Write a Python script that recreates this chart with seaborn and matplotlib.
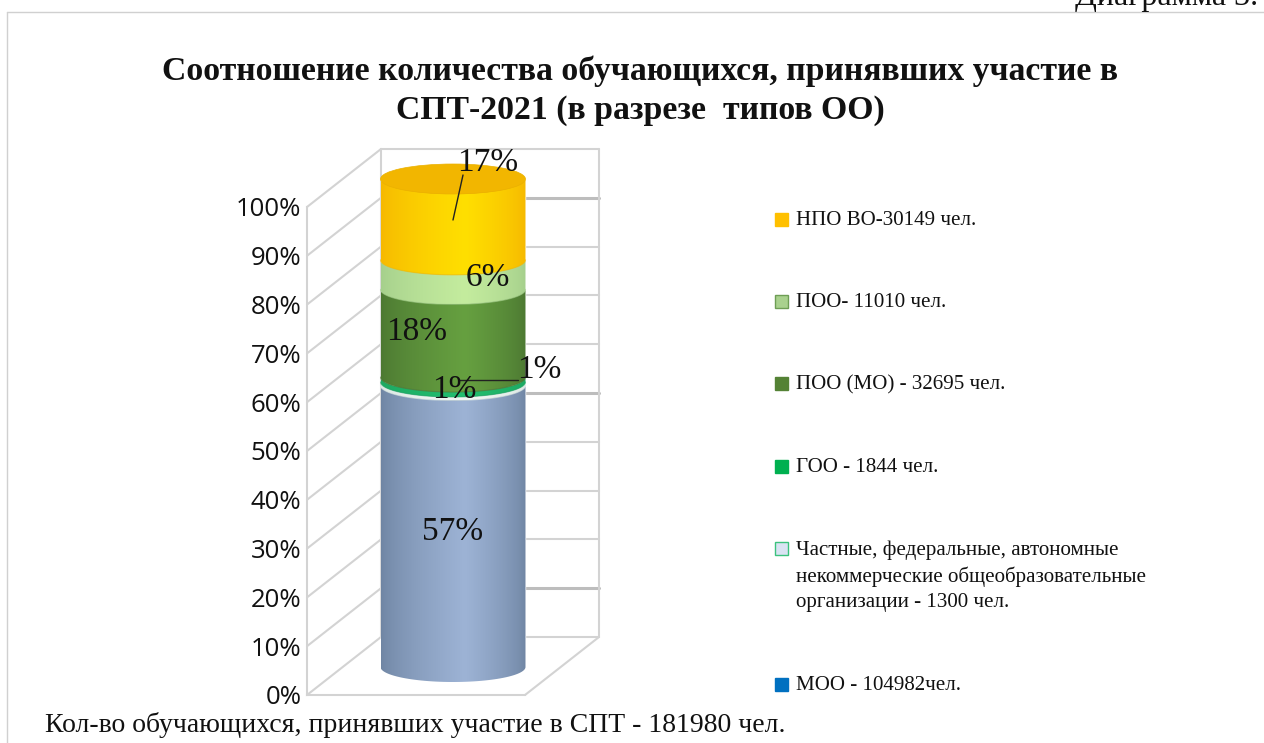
import numpy as np
import pandas as pd
import seaborn as sns
import matplotlib.pyplot as plt
from matplotlib.colors import LinearSegmentedColormap
from matplotlib.lines import Line2D
from matplotlib.patches import PathPatch, Ellipse, Rectangle
from matplotlib.path import Path
from matplotlib.transforms import Affine2D

W, H = 1264, 743

# data, bottom segment first
counts = [104982, 1300, 1844, 32695, 11010, 30149]
pct_labels = ["57%", "1%", "1%", "18%", "6%", "17%"]
legend_labels = [
    "МОО - 104982чел.",
    "Частные, федеральные, автономные\nнекоммерческие общеобразовательные\nорганизации - 1300 чел.",
    "ГОО - 1844 чел.",
    "ПОО (МО) - 32695 чел.",
    "ПОО- 11010 чел.",
    "НПО ВО-30149 чел.",
]
y_ticks = [0, 10, 20, 30, 40, 50, 60, 70, 80, 90, 100]
y_tick_labels = ["0%", "10%", "20%", "30%", "40%", "50%", "60%", "70%", "80%", "90%", "100%"]

# cylinder shading (edge, centre) and legend swatches
edge_colors = ["#6F85A3", "#DCE8E4", "#1DA862", "#4C7832", "#A5CF8C", "#F6B800"]
centre_colors = ["#9DB3D5", "#F2F7F4", "#22BE70", "#66A040", "#C4EC9E", "#FFDF00"]
swatch_colors = ["#0070C0", "#DAE3F3", "#00B050", "#548235", "#A9D18E", "#FFC000"]
swatch_edges = ["#0070C0", "#3CC27E", "#00B050", "#548235", "#6E9E55", "#FFC000"]

# layout, in pixels of the picture
legend_y = [684, 548, 466, 383, 301, 219]
label_xy = [(453, 532), (454, 390), (539, 370), (417, 332), (488, 278), (488, 163)]


def fx(x):
    return x / W


def fy(y):
    return 1 - y / H


sns.set_theme(style="white")
plt.rcParams["font.family"] = ["Liberation Serif", "DejaVu Serif"]

fig = plt.figure(figsize=(W / 100, H / 100), dpi=100)
ax = fig.add_axes([fx(307), fy(695), 218 / W, 488 / H])

df = pd.DataFrame({"group": [""] * len(counts), "count": counts})
df["pct"] = df["count"] / df["count"].sum() * 100
bottoms = df["pct"].cumsum() - df["pct"]

# depth of the 3D box in data units
depth_x = 74 / 218
depth_y = 58 / 4.88
sag = 15 / 4.88

# bars sit in the middle of the box
mid_tr = ax.transData + Affine2D().translate(37, 28)

for i in range(len(df)):
    sns.barplot(x=df["group"].iloc[[i]], y=df["pct"].iloc[[i]], bottom=bottoms.iloc[i],
                color=edge_colors[i], width=0.665, saturation=1, ax=ax, zorder=3)

ax.set_xlim(-0.5, 0.5)
ax.set_ylim(0, 100)

# walls of the box
wall = "#D3D3D3"
for t in y_ticks:
    thick = t in (10, 50, 90)
    ax.plot([-0.5 + depth_x, 0.5 + depth_x], [t + depth_y, t + depth_y], color="#BDBDBD" if thick else wall,
            lw=2.2 if thick else 1.5, clip_on=False, zorder=1)
    ax.plot([-0.5, -0.5 + depth_x], [t, t + depth_y], color=wall, lw=1.5, clip_on=False, zorder=1)
for x in (-0.5 + depth_x, 0.5 + depth_x):
    ax.plot([x, x], [depth_y, 100 + depth_y], color=wall, lw=1.5, clip_on=False, zorder=1)
ax.plot([0.5, 0.5 + depth_x], [0, depth_y], color=wall, lw=1.5, clip_on=False, zorder=1)

# turn the flat bars into a shaded cylinder
theta = np.linspace(np.pi, 2 * np.pi, 60)
u = np.linspace(0, 1, 200)
shade_vals = np.where(u < 0.58, u / 0.58, (1 - u) / 0.42)[None, :] ** 0.7
bars = list(ax.patches)
for i, bar in enumerate(bars):
    bar.set_transform(mid_tr)
    bar.set_clip_on(False)
    x0, x1 = bar.get_x(), bar.get_x() + bar.get_width()
    y0, y1 = bar.get_y(), bar.get_y() + bar.get_height()
    cx, rx = (x0 + x1) / 2, (x1 - x0) / 2
    top = np.column_stack([cx + rx * np.cos(theta), y1 + sag * np.sin(theta)])
    low = np.column_stack([cx + rx * np.cos(theta), y0 + sag * np.sin(theta)])[::-1]
    verts = np.vstack([top, low, top[:1]])
    shape = PathPatch(Path(verts), transform=mid_tr, fc="none", ec="none")
    ax.add_patch(shape)
    shade = LinearSegmentedColormap.from_list("s", [edge_colors[i], centre_colors[i]])
    im = ax.imshow(shade_vals, cmap=shade, vmin=0, vmax=1,
                   extent=[x0, x1, y0 - sag, y1 + sag], aspect="auto", zorder=4)
    im.set_transform(mid_tr)
    im.set_clip_path(shape)
    im.set_clip_box(fig.bbox)
    if i < len(bars) - 1:
        ax.plot(top[:, 0], top[:, 1], color=edge_colors[i + 1], lw=0.8, alpha=0.6, transform=mid_tr,
                clip_on=False, zorder=5)
    else:
        cap = Ellipse((cx, y1), 2 * rx, 2 * sag, fc="#F2B600", ec="#EBB100", lw=0.5, transform=mid_tr,
                      clip_on=False, zorder=6)
        ax.add_patch(cap)

ax.set_xlim(-0.5, 0.5)
ax.set_ylim(0, 100)
ax.set_xticks([])
ax.set_xlabel("")
ax.set_ylabel("")
ax.set_yticks(y_ticks)
ax.set_yticklabels(y_tick_labels, fontfamily="Open Sans", fontsize=18.5, color="#111111")
ax.tick_params(axis="y", length=0, pad=4)
for side in ("top", "right"):
    ax.spines[side].set_visible(False)
for side in ("left", "bottom"):
    ax.spines[side].set_color(wall)
    ax.spines[side].set_linewidth(1.5)
ax.patch.set_alpha(0)

# chart frame
fig.add_artist(Line2D([fx(7), fx(7)], [fy(12), 0], color="#D0D0D0", lw=1))
fig.add_artist(Line2D([fx(7), 1], [fy(12), fy(12)], color="#D0D0D0", lw=1))

# percent labels and leader lines
for (x, y), s in zip(label_xy, pct_labels):
    fig.text(fx(x), fy(y), s, ha="center", va="center", fontsize=24, color="#111111", zorder=10)
fig.add_artist(Line2D([fx(463), fx(453)], [fy(175), fy(220)], color="#222222", lw=1, zorder=9))
fig.add_artist(Line2D([fx(459), fx(518)], [fy(380), fy(380)], color="#222222", lw=1, zorder=9))

# legend
for y, s, c, e in zip(legend_y, legend_labels, swatch_colors, swatch_edges):
    fig.add_artist(Rectangle((fx(775), fy(y + 7)), 13 / W, 13 / H, transform=fig.transFigure, fc=c, ec=e, lw=1))
    fig.text(fx(796), fy(y - 8), s, ha="left", va="top", fontsize=15.1, color="#111111", linespacing=1.45)

# titles and notes
fig.text(fx(640), fy(71), "Соотношение количества обучающихся, принявших участие в", ha="center", va="center",
         fontsize=24.3, fontweight="bold", color="#111111")
fig.text(fx(640), fy(111), "СПТ-2021 (в разрезе  типов ОО)", ha="center", va="center",
         fontsize=24.3, fontweight="bold", color="#111111")
fig.text(fx(45), fy(725), "Кол-во обучающихся, принявших участие в СПТ - 181980 чел.", ha="left", va="center",
         fontsize=20, color="#111111")
fig.text(fx(1258), fy(5), "Диаграмма 3.", ha="right", va="baseline", fontsize=23, color="#111111")

fig.savefig("out.png", dpi=100)
